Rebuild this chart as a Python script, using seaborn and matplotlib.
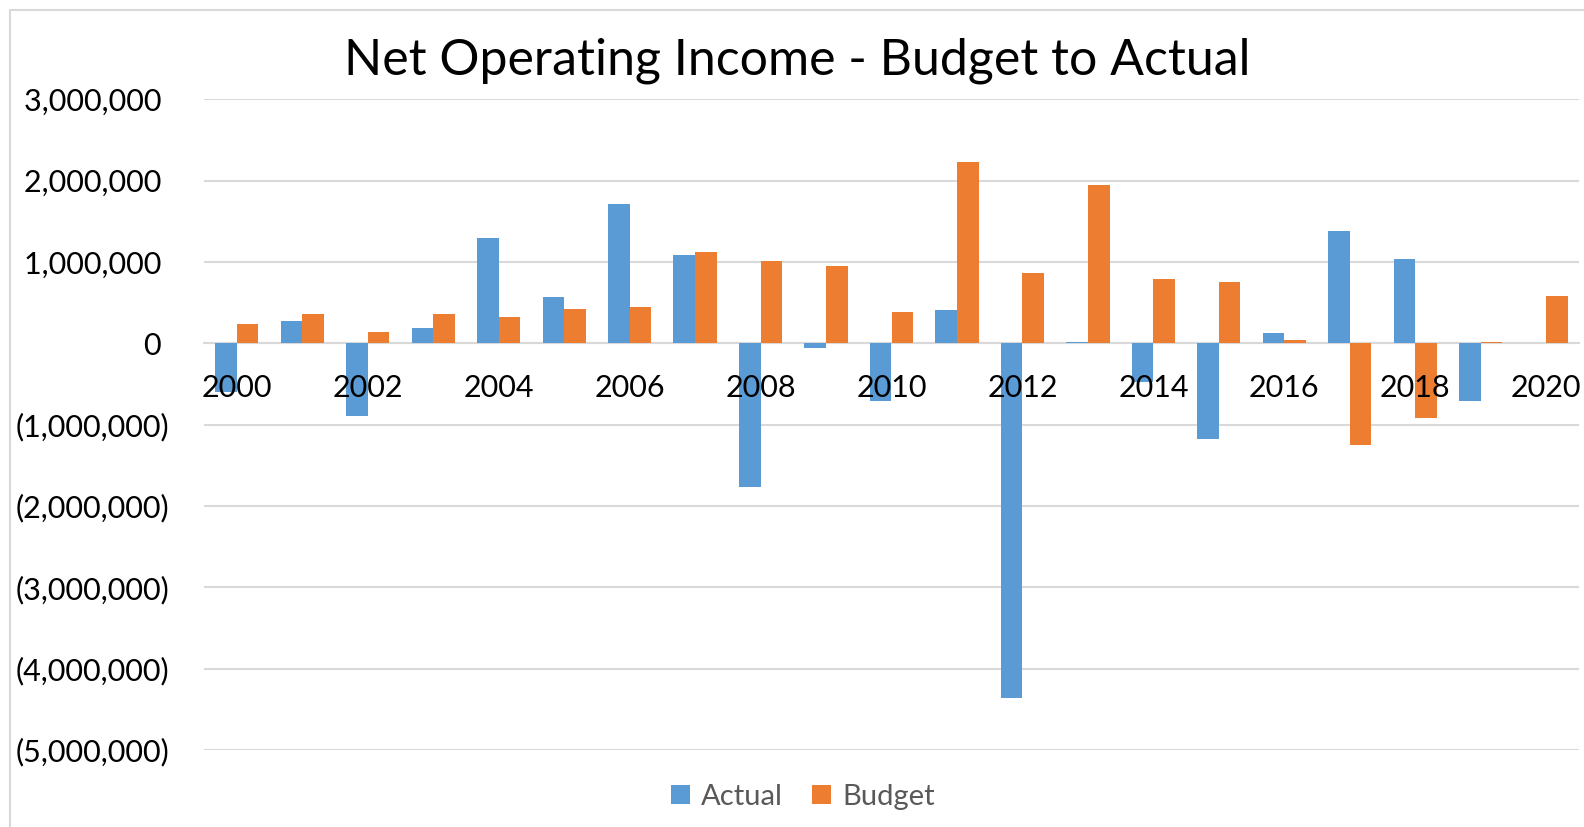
import matplotlib
matplotlib.use("Agg")
import matplotlib.pyplot as plt
import seaborn as sns
import pandas as pd
from matplotlib.patches import Patch
from matplotlib.lines import Line2D

years = [str(y) for y in range(2000, 2021)]
actual = [-600000, 275000, -890000, 190000, 1290000, 570000, 1715000, 1085000,
          -1765000, -55000, -705000, 405000, -4360000, 12000, -470000, -1180000,
          130000, 1380000, 1035000, -705000, 0]
budget = [240000, 355000, 140000, 355000, 325000, 425000, 445000, 1125000,
          1010000, 950000, 385000, 2230000, 870000, 1945000, 790000, 750000,
          40000, -1250000, -915000, 15000, 585000]
series = ["Actual", "Budget"]
colors = ["#5B9BD5", "#ED7D31"]
yticks = [3000000, 2000000, 1000000, 0, -1000000, -2000000, -3000000, -4000000, -5000000]

df = pd.DataFrame({
    "Year": years * 2,
    "Value": actual + budget,
    "Series": [series[0]] * len(years) + [series[1]] * len(years),
})

sns.set_theme(style="white")
plt.rcParams["font.family"] = ["Lato", "DejaVu Sans"]

fig = plt.figure(figsize=(15.84, 8.27), dpi=100)
ax = fig.add_axes([204 / 1584, 1 - 750 / 827, (1579 - 204) / 1584, (750 - 99.3) / 827])

sns.barplot(data=df, x="Year", y="Value", hue="Series", order=years,
            hue_order=series, palette=colors, width=0.66, ax=ax,
            saturation=1, legend=False, edgecolor="none")

ax.set_ylim(-5000000, 3000000)
ax.set_xlim(-0.5, len(years) - 0.5)
ax.set_yticks(yticks)

def fmt(v):
    if v < 0:
        return "({:,})".format(-v)
    if v == 0:
        return "0 "
    return "{:,} ".format(v)

ax.set_yticklabels([fmt(v) for v in yticks], fontsize=22, color="black")
ax.yaxis.grid(True, color="#D9D9D9", linewidth=1.5)
ax.set_axisbelow(True)
for s in ["top", "right", "left"]:
    ax.spines[s].set_visible(False)
ax.spines["bottom"].set_position(("data", 0))
ax.spines["bottom"].set_color("#D9D9D9")
ax.spines["bottom"].set_linewidth(1.5)
ax.spines["bottom"].set_zorder(0.5)

xt = list(range(0, len(years), 2))
ax.set_xticks(xt)
ax.set_xticklabels([years[i] for i in xt], fontsize=22, color="black")
ax.tick_params(axis="x", length=0, pad=22)
ax.tick_params(axis="y", length=0, pad=25)
ax.xaxis.set_zorder(5)
ax.set_xlabel("")
ax.set_ylabel("")

fig.text(0.503, 1 - 61 / 827, "Net Operating Income - Budget to Actual",
         ha="center", va="center", fontsize=36, color="black")

handles = [Patch(facecolor=c, edgecolor="none") for c in colors]
fig.legend(handles, series, loc="center", bbox_to_anchor=(803 / 1584, 1 - 797 / 827),
           ncol=2, frameon=False, fontsize=21, labelcolor="#595959",
           handlelength=0.65, handleheight=0.65, handletextpad=0.4, columnspacing=1.0)

fig.add_artist(Line2D([10 / 1584, 10 / 1584], [0, 1 - 10 / 827],
                      transform=fig.transFigure, color="#D9D9D9", linewidth=1.5))
fig.add_artist(Line2D([10 / 1584, 1], [1 - 10 / 827, 1 - 10 / 827],
                      transform=fig.transFigure, color="#D9D9D9", linewidth=1.5))

fig.savefig("out.png", dpi=100)
